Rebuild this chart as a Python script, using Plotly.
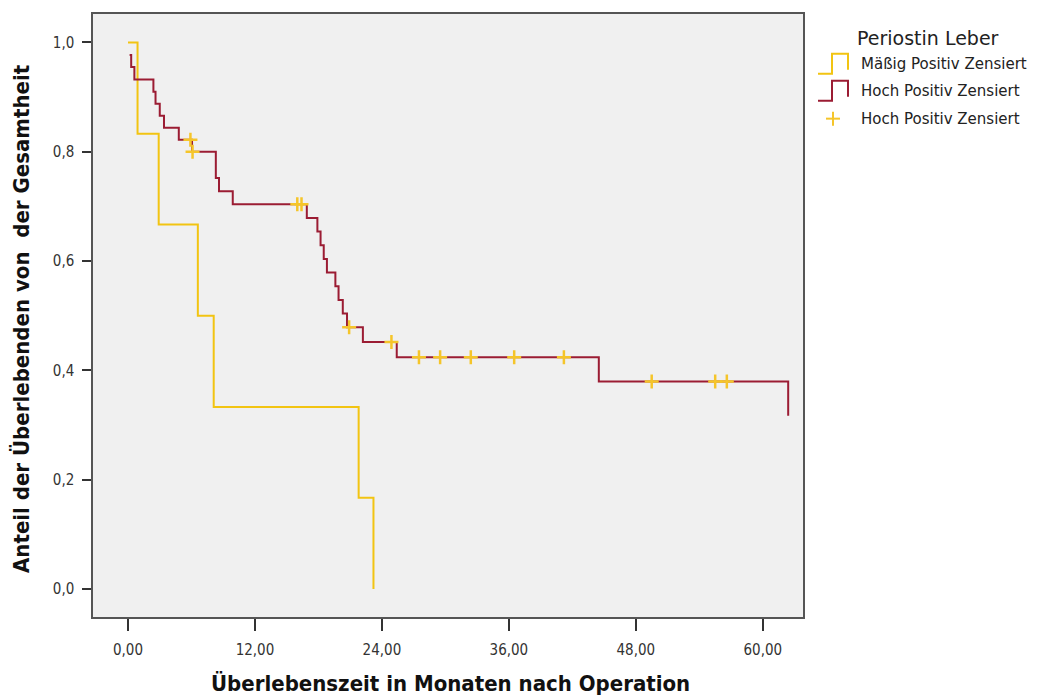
import plotly.graph_objects as go

# Kaplan-Meier curves: time in months after surgery, cumulative survival
maessig_time = [0.0, 0.9, 2.9, 6.6, 8.1, 21.8, 23.2]
maessig_surv = [1.0, 0.833, 0.667, 0.5, 0.333, 0.167, 0.0]

hoch_time = [0.15, 0.3, 0.6, 2.4, 2.6, 3.0, 3.4, 4.8, 6.05, 8.3, 8.6, 9.9,
             16.9, 17.9, 18.2, 18.5, 18.8, 19.6, 19.9, 20.3, 20.7, 22.2,
             25.4, 44.5, 62.4]
hoch_surv = [0.977, 0.955, 0.932, 0.910, 0.888, 0.866, 0.844, 0.822, 0.800,
             0.752, 0.728, 0.704, 0.679, 0.654, 0.629, 0.604, 0.579, 0.554,
             0.529, 0.504, 0.479, 0.452, 0.424, 0.380, 0.317]

# censored observations in the "Hoch Positiv" group
hoch_cens_time = [5.9, 6.1, 16.0, 16.4, 20.9, 24.9, 27.5, 29.5, 32.4, 36.5,
                  41.2, 49.5, 55.5, 56.6]
hoch_cens_surv = [0.822, 0.800, 0.704, 0.704, 0.479, 0.452, 0.424, 0.424,
                  0.424, 0.424, 0.424, 0.380, 0.380, 0.380]

x_tick_vals = [0, 12, 24, 36, 48, 60]
x_tick_text = ["0,00", "12,00", "24,00", "36,00", "48,00", "60,00"]
y_tick_vals = [0.0, 0.2, 0.4, 0.6, 0.8, 1.0]
y_tick_text = ["0,0", "0,2", "0,4", "0,6", "0,8", "1,0"]

legend_title = "Periostin Leber"
legend_labels = ["Mäßig Positiv Zensiert", "Hoch Positiv Zensiert",
                 "Hoch Positiv Zensiert"]

YELLOW = "#F2C412"
RED = "#9B1C33"
CENS = "#F5C52A"

W, H = 1051, 698
L, R, T, B = 93, 248, 12, 81
PW, PH = W - L - R, H - T - B

NARROW = "Liberation Sans Narrow, Arial Narrow, DejaVu Sans Condensed, sans-serif"
WIDE = "DejaVu Sans, sans-serif"


def px(x):
    return (x - L) / PW


def py(y):
    return (H - B - y) / PH


fig = go.Figure()

fig.add_trace(go.Scatter(x=maessig_time, y=maessig_surv, mode="lines",
                         line=dict(color=YELLOW, width=2, shape="hv"),
                         showlegend=False, hoverinfo="skip"))
fig.add_trace(go.Scatter(x=hoch_time, y=hoch_surv, mode="lines",
                         line=dict(color=RED, width=2, shape="hv"),
                         showlegend=False, hoverinfo="skip"))
fig.add_trace(go.Scatter(x=hoch_cens_time, y=hoch_cens_surv, mode="markers",
                         marker=dict(symbol="cross-thin", size=10,
                                     line=dict(color=CENS, width=2.5)),
                         showlegend=False, hoverinfo="skip"))

shapes = []
annotations = []

# legend drawn beside the plot area
annotations.append(dict(text=legend_title, x=px(855), y=py(36), xref="paper",
                        yref="paper", xanchor="left", yanchor="middle",
                        showarrow=False, font=dict(family=WIDE, size=19, color="#222")))
item_y = [62, 89, 117]
for label, yc in zip(legend_labels, item_y):
    annotations.append(dict(text=label, x=px(859), y=py(yc), xref="paper",
                            yref="paper", xanchor="left", yanchor="middle",
                            showarrow=False,
                            font=dict(family=WIDE, size=15, color="#222")))


def step_icon(yc, color):
    pts = [(818, yc + 10), (832, yc + 10), (832, yc - 10), (848, yc - 10),
           (848, yc + 6)]
    path = "M " + " L ".join(f"{px(a):.5f},{py(b):.5f}" for a, b in pts)
    return dict(type="path", path=path, xref="paper", yref="paper",
                line=dict(color=color, width=2))


shapes.append(step_icon(item_y[0], YELLOW))
shapes.append(step_icon(item_y[1], RED))
for (x0, y0, x1, y1) in [(826, item_y[2], 840, item_y[2]),
                         (833, item_y[2] - 7, 833, item_y[2] + 7)]:
    shapes.append(dict(type="line", x0=px(x0), y0=py(y0), x1=px(x1), y1=py(y1),
                       xref="paper", yref="paper",
                       line=dict(color=CENS, width=2)))

# axis titles
annotations.append(dict(text="<b>Überlebenszeit in Monaten nach Operation</b>",
                        x=px(450), y=py(684), xref="paper", yref="paper",
                        xanchor="center", yanchor="middle", showarrow=False,
                        font=dict(family=NARROW, size=22, color="#111")))
annotations.append(dict(text="<b>Anteil der Überlebenden von  der Gesamtheit</b>",
                        x=px(22), y=py(318), xref="paper", yref="paper",
                        xanchor="center", yanchor="middle", showarrow=False,
                        textangle=-90,
                        font=dict(family=NARROW, size=22, color="#111")))

fig.update_layout(
    width=W, height=H,
    margin=dict(l=L, r=R, t=T, b=B, pad=0),
    paper_bgcolor="white", plot_bgcolor="#F0F0F0",
    shapes=shapes, annotations=annotations, showlegend=False,
    xaxis=dict(range=[-3.31, 63.8], tickvals=x_tick_vals, ticktext=x_tick_text,
               ticks="outside", ticklen=12, tickwidth=1.5, tickcolor="#333",
               ticklabelstandoff=6,
               showline=True, mirror=True, linecolor="#555", linewidth=1.5,
               showgrid=False, zeroline=False,
               tickfont=dict(family=NARROW, size=15, color="#333")),
    yaxis=dict(range=[-0.051, 1.052], tickvals=y_tick_vals, ticktext=y_tick_text,
               ticks="outside", ticklen=9, tickwidth=1.5, tickcolor="#333",
               ticklabelstandoff=5,
               showline=True, mirror=True, linecolor="#555", linewidth=1.5,
               showgrid=False, zeroline=False,
               tickfont=dict(family=NARROW, size=15, color="#333")),
)

fig.write_html("out.html")
